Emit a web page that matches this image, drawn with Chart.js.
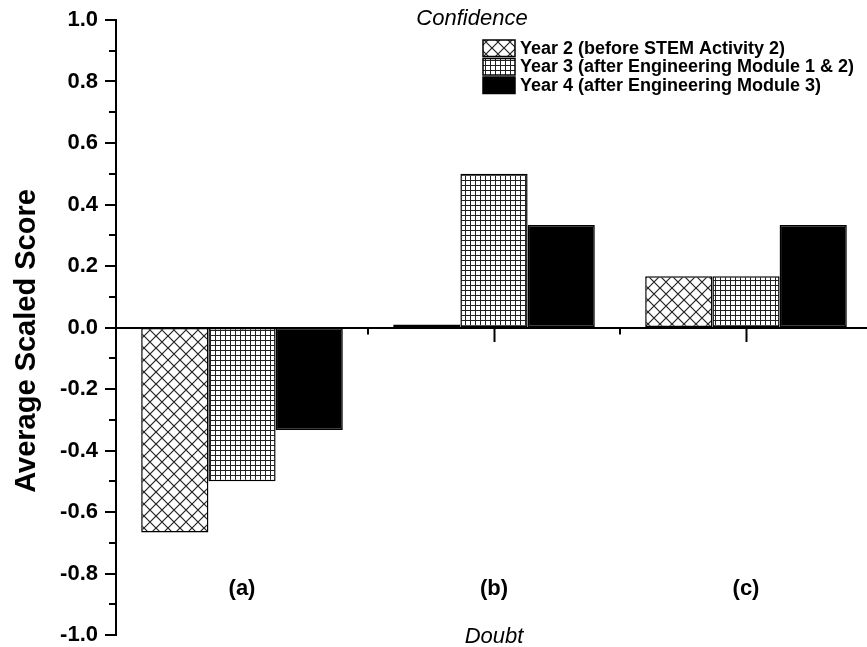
<!DOCTYPE html>
<html lang="en">

<head>
    <meta charset="UTF-8">
    <title>Average Scaled Score</title>
    <script src="https://cdn.jsdelivr.net/npm/chart.js"></script>
    <style>
        html, body { margin: 0; padding: 0; background: #fff; overflow: hidden; }
        .box_chart { width: 872px; height: 647px; }
    </style>
</head>

<body>
    <div class="box_chart">
        <canvas id="myChart" width="872" height="647"></canvas>
    </div>
</body>
<script>

    const categorias = ['(a)', '(b)', '(c)'];
    const nomesSeries = [
        'Year 2 (before STEM Activity 2)',
        'Year 3 (after Engineering Module 1 & 2)',
        'Year 4 (after Engineering Module 3)'
    ];
    const ano2 = [-0.667, 0.01, 0.167];
    const ano3 = [-0.5, 0.5, 0.167];
    const ano4 = [-0.333, 0.333, 0.333];
    const yMin = -1.0;
    const yMax = 1.0;
    const yPasso = 0.2;

    const fonte = 'Liberation Sans, Arial, sans-serif';

    // hachuras dos blocos (cruzado e quadriculado)
    function criarPadrao(tipo) {
        const c = document.createElement('canvas');
        const ctx = c.getContext('2d');
        if (tipo === 'cruzado') {
            c.width = 12; c.height = 12;
            ctx.fillStyle = '#fff';
            ctx.fillRect(0, 0, 12, 12);
            ctx.strokeStyle = '#222';
            ctx.lineWidth = 1.2;
            ctx.beginPath();
            ctx.moveTo(-1, -1); ctx.lineTo(13, 13);
            ctx.moveTo(13, -1); ctx.lineTo(-1, 13);
            ctx.stroke();
        } else {
            c.width = 5; c.height = 5;
            ctx.fillStyle = '#fff';
            ctx.fillRect(0, 0, 5, 5);
            ctx.strokeStyle = '#222';
            ctx.lineWidth = 1;
            ctx.beginPath();
            ctx.moveTo(0.5, 0); ctx.lineTo(0.5, 5);
            ctx.moveTo(0, 0.5); ctx.lineTo(5, 0.5);
            ctx.stroke();
        }
        return document.getElementById('myChart').getContext('2d').createPattern(c, 'repeat');
    }

    const cores = [criarPadrao('cruzado'), criarPadrao('grade'), '#000'];

    const extras = {
        id: 'extras',
        afterDraw(chart) {
            const ctx = chart.ctx;
            const x = chart.scales.x;
            const y = chart.scales.y;
            const area = chart.chartArea;
            const zero = y.getPixelForValue(0);
            ctx.save();
            ctx.strokeStyle = '#000';
            ctx.lineWidth = 2;

            ctx.beginPath();
            // ticks maiores do eixo y
            y.ticks.forEach(t => {
                const py = Math.round(y.getPixelForValue(t.value));
                ctx.moveTo(area.left - 11, py);
                ctx.lineTo(area.left, py);
            });
            // ticks menores do eixo y
            for (let v = yMin + yPasso / 2; v < yMax; v += yPasso) {
                const py = Math.round(y.getPixelForValue(v));
                ctx.moveTo(area.left - 7, py);
                ctx.lineTo(area.left, py);
            }
            // ticks menores do eixo x (entre categorias)
            for (let i = 1; i < categorias.length; i++) {
                const px = (x.getPixelForValue(i - 1) + x.getPixelForValue(i)) / 2;
                ctx.moveTo(px, zero);
                ctx.lineTo(px, zero + 7);
            }
            ctx.stroke();

            ctx.fillStyle = '#000';
            ctx.textAlign = 'center';
            ctx.textBaseline = 'middle';

            // rótulos das categorias
            ctx.font = 'bold 22px ' + fonte;
            categorias.forEach((c, i) => {
                ctx.fillText(c, x.getPixelForValue(i), y.getPixelForValue(-0.85));
            });

            ctx.font = 'italic 22px ' + fonte;
            ctx.fillText('Confidence', 472, 19);
            ctx.fillText('Doubt', x.getPixelForValue(1), 637);

            // título do eixo y
            ctx.save();
            ctx.translate(27, 341);
            ctx.rotate(-Math.PI / 2);
            ctx.font = 'bold 29px ' + fonte;
            ctx.fillText('Average Scaled Score', 0, 0);
            ctx.restore();

            // legenda
            ctx.textAlign = 'left';
            ctx.font = 'bold 18px ' + fonte;
            chart.data.datasets.forEach((ds, i) => {
                const top = 40 + i * 18.5;
                ctx.fillStyle = ds.backgroundColor;
                ctx.fillRect(483, top, 32, 16.5);
                ctx.lineWidth = 1.5;
                ctx.strokeRect(483, top, 32, 16.5);
                ctx.fillStyle = '#000';
                ctx.fillText(ds.label, 520, top + 9);
            });
            ctx.restore();
        }
    };

    const data = {
        labels: categorias,
        datasets: [ano2, ano3, ano4].map((valores, i) => ({
            label: nomesSeries[i],
            data: valores,
            backgroundColor: cores[i],
            borderColor: '#000',
            borderWidth: 1.5,
            borderSkipped: false,
            categoryPercentage: 0.8,
            barPercentage: 1.0
        }))
    };

    const config = {
        type: 'bar',
        data: data,
        options: {
            responsive: false,
            animation: false,
            devicePixelRatio: 1,
            layout: { padding: { top: 20, bottom: 12, left: 0, right: 0 } },
            plugins: {
                legend: { display: false },
                tooltip: { enabled: false }
            },
            scales: {
                x: {
                    position: { y: 0 },
                    offset: true,
                    grid: {
                        offset: false,
                        drawOnChartArea: false,
                        tickLength: 13,
                        tickWidth: 2,
                        tickColor: '#000'
                    },
                    border: { color: '#000', width: 2 },
                    ticks: { display: false }
                },
                y: {
                    min: yMin,
                    max: yMax,
                    afterFit(scale) { scale.width = 116; },
                    grid: {
                        drawOnChartArea: false,
                        tickLength: 18,
                        tickColor: 'rgba(0,0,0,0)'
                    },
                    border: { color: '#000', width: 2 },
                    ticks: {
                        stepSize: yPasso,
                        padding: 0,
                        color: '#000',
                        font: { family: fonte, size: 22, weight: 'bold', lineHeight: 1 },
                        callback: v => (Math.abs(v) < 1e-9 ? 0 : v).toFixed(1)
                    }
                }
            }
        },
        plugins: [extras]
    };

    new Chart('myChart', config);

</script>
</html>
